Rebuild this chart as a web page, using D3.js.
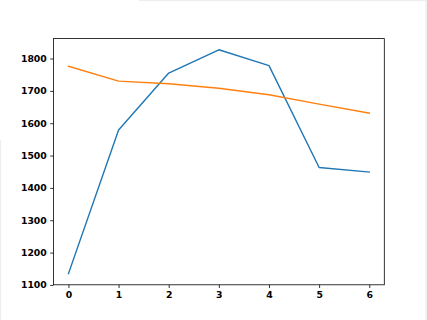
<!DOCTYPE html>
<html>
<head>
<meta charset="utf-8">
<script src="https://cdn.jsdelivr.net/npm/d3@7"></script>
<style>
  html, body { margin: 0; padding: 0; background: #fff; }
  svg { display: block; }
  .tick text { font-family: "DejaVu Sans", sans-serif; font-weight: bold; font-size: 9.3px; fill: #000; }
</style>
</head>
<body>
<div id="chart"></div>
<script>
// data
const xs = [0, 1, 2, 3, 4, 5, 6];
const blue = [1135, 1579, 1755, 1827, 1778, 1463, 1449];
const orange = [1776, 1730, 1722, 1708, 1688, 1659, 1631];
const yTicks = [1100, 1200, 1300, 1400, 1500, 1600, 1700, 1800];

const W = 427, H = 320;
const m = { left: 53.4, right: 427 - 384.3, top: 38.6, bottom: 320 - 284.8 };

const svg = d3.select("#chart").append("svg").attr("width", W).attr("height", H);

// faint window edges seen in the screenshot
svg.append("rect").attr("x", 139).attr("y", 0).attr("width", W - 139).attr("height", 1.2).attr("fill", "#efefef");
svg.append("rect").attr("x", W - 1.5).attr("y", 0).attr("width", 1.5).attr("height", H).attr("fill", "#efefef");
svg.append("rect").attr("x", 0).attr("y", 140).attr("width", 1.2).attr("height", H - 140).attr("fill", "#efefef");

// matplotlib style 5% margins
const allY = blue.concat(orange);
const yMin = d3.min(allY), yMax = d3.max(allY), pad = (yMax - yMin) * 0.05;
const x = d3.scaleLinear().domain([-0.3, 6.3]).range([m.left, W - m.right]);
const y = d3.scaleLinear().domain([yMin - pad, yMax + pad]).range([H - m.bottom, m.top]);

const g = svg.append("g");

const line = d3.line().x((d, i) => x(xs[i])).y(d => y(d));

g.append("path").datum(blue)
  .attr("d", line).attr("fill", "none").attr("stroke", "#1f77b4")
  .attr("stroke-width", 1.4).attr("stroke-linejoin", "round").attr("stroke-linecap", "square");
g.append("path").datum(orange)
  .attr("d", line).attr("fill", "none").attr("stroke", "#ff7f0e")
  .attr("stroke-width", 1.4).attr("stroke-linejoin", "round").attr("stroke-linecap", "square");

const xAxis = d3.axisBottom(x).tickValues(xs).tickFormat(d3.format("d")).tickSizeOuter(0).tickSize(3.2).tickPadding(3.4);
const yAxis = d3.axisLeft(y).tickValues(yTicks).tickFormat(d3.format("d")).tickSizeOuter(0).tickSize(3.2).tickPadding(3.4);

const gx = svg.append("g").attr("transform", `translate(0,${H - m.bottom})`).call(xAxis);
const gy = svg.append("g").attr("transform", `translate(${m.left},0)`).call(yAxis);
[gx, gy].forEach(a => {
  a.select(".domain").remove();
  a.selectAll(".tick line").attr("stroke", "#000").attr("stroke-width", 0.8);
});

// spines
svg.append("rect")
  .attr("x", m.left).attr("y", m.top)
  .attr("width", W - m.right - m.left).attr("height", H - m.bottom - m.top)
  .attr("fill", "none").attr("stroke", "#000").attr("stroke-width", 0.8);
</script>
</body>
</html>
